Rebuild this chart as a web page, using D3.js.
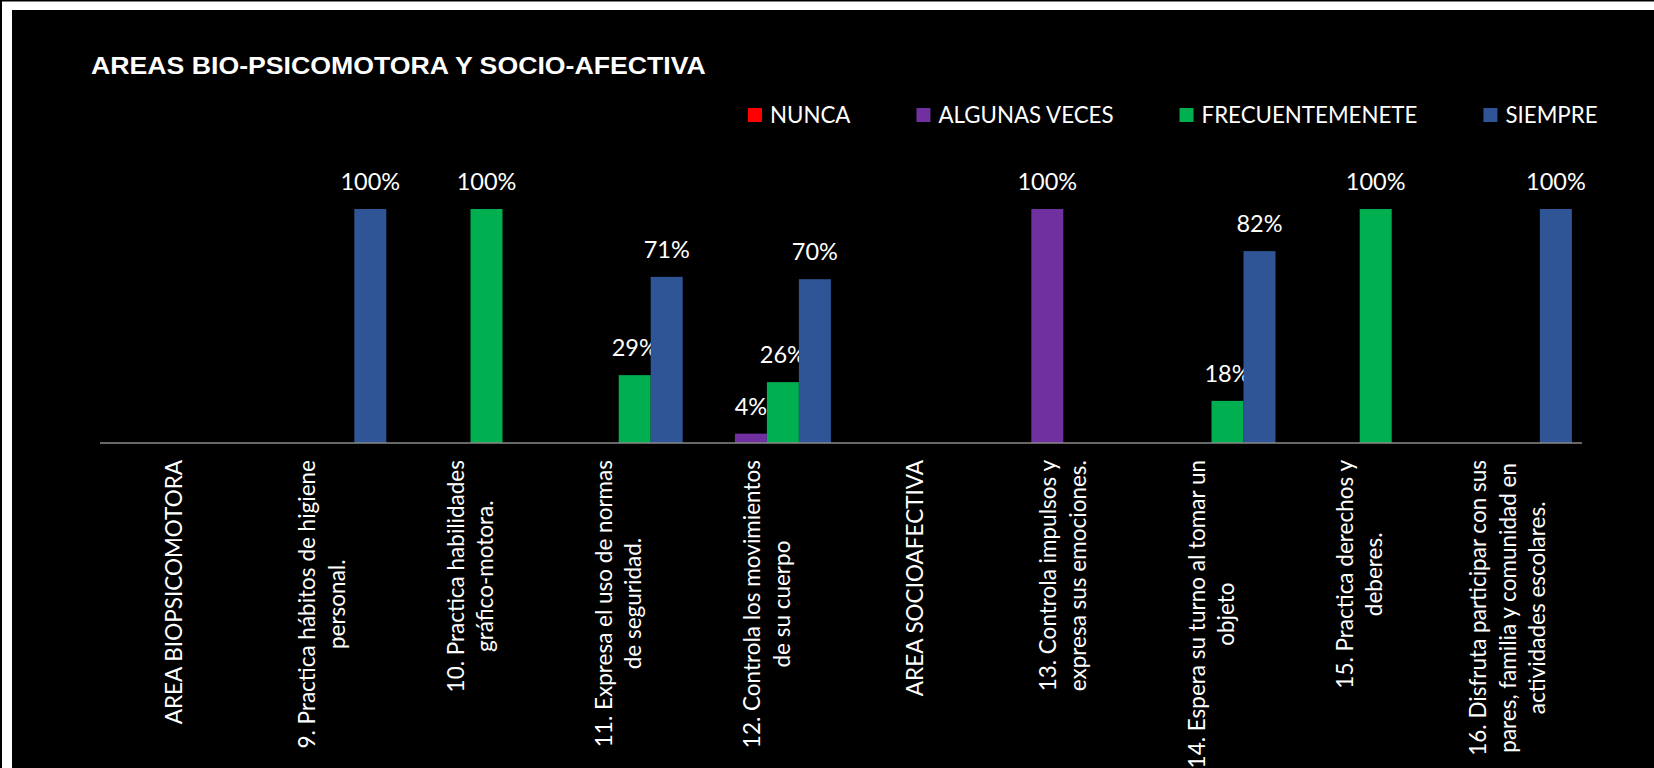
<!DOCTYPE html>
<html>
<head>
<meta charset="utf-8">
<script src="https://cdn.jsdelivr.net/npm/d3@7"></script>
<style>
  html, body { margin: 0; padding: 0; background: #fff; }
  svg { display: block; }
</style>
</head>
<body>
<script>
// chart data
const chartTitle = "AREAS BIO-PSICOMOTORA Y SOCIO-AFECTIVA";

const categories = [
  "AREA BIOPSICOMOTORA",
  "9. Practica hábitos de higiene\npersonal.",
  "10. Practica habilidades\ngráfico-motora.",
  "11. Expresa el uso de normas\nde seguridad.",
  "12. Controla los movimientos\nde su cuerpo",
  "AREA SOCIOAFECTIVA",
  "13. Controla impulsos y\nexpresa sus emociones.",
  "14. Espera su turno al tomar un\nobjeto",
  "15. Practica derechos y\ndeberes.",
  "16. Disfruta participar con sus\npares, familia y comunidad en\nactividades escolares."
];

const seriesNames = ["NUNCA", "ALGUNAS VECES", "FRECUENTEMENETE", "SIEMPRE"];
const seriesColors = ["#FF0000", "#7030A0", "#00B050", "#2F5597"];

// percentages, null = empty cell
const nunca          = [null, null, null, null, null, null, null, null, null, null];
const algunasVeces   = [null, null, null, null, 4,    null, 100,  null, null, null];
const frecuentemente = [null, null, 100,  29,   26,   null, null, 18,   100,  null];
const siempre        = [null, 100,  null, 71,   70,   null, null, 82,   null, 100];

const seriesValues = [nunca, algunasVeces, frecuentemente, siempre];

let W = 1654, H = 768;
let plot = null;
let svg = null;
let x0, x1, y = null;

const labelFont = "Lato, 'Open Sans', sans-serif";

appendSvg("body");
drawFrame();
setupScales();
appendTitle();
appendLegend();
appendBars();
appendAxis();

function appendSvg(domElement) {
  svg = d3.select(domElement).append("svg")
    .attr("width", W)
    .attr("height", H);
}

function drawFrame() {
  // white page with thin dark border, chart area is black
  svg.append("rect").attr("width", W).attr("height", H).attr("fill", "#fff");
  svg.append("line").attr("x1", 1).attr("x2", 1).attr("y1", 0).attr("y2", H)
    .attr("stroke", "#000").attr("stroke-width", 2);
  svg.append("line").attr("x1", 0).attr("x2", W).attr("y1", 0.75).attr("y2", 0.75)
    .attr("stroke", "#000").attr("stroke-width", 1.5);
  svg.append("rect")
    .attr("x", 12).attr("y", 10)
    .attr("width", W - 12).attr("height", H - 10)
    .attr("fill", "#000");
}

function setupScales() {
  plot = {left: 100, right: 1582, top: 209, bottom: 443};

  x0 = d3.scaleBand()
    .domain(d3.range(categories.length))
    .range([plot.left, plot.right])
    .paddingInner(0)
    .paddingOuter(0);

  x1 = d3.scaleBand()
    .domain(seriesNames)
    .range([0, x0.bandwidth()])
    .paddingInner(0)
    .paddingOuter(0.316);

  y = d3.scaleLinear()
    .domain([0, 100])
    .range([plot.bottom, plot.top]);
}

function appendTitle() {
  svg.append("text")
    .attr("transform", "translate(91,74) scale(1.16,1)")
    .attr("fill", "#fff")
    .style("font-family", "'Liberation Sans', Arial, sans-serif")
    .style("font-weight", "bold")
    .style("font-size", "23px")
    .text(chartTitle);
}

function appendLegend() {
  let lx = 748;
  const ly = 115;
  seriesNames.forEach(function(name, i) {
    const g = svg.append("g").attr("class", "legend");
    g.append("rect")
      .attr("x", lx).attr("y", ly - 7)
      .attr("width", 14).attr("height", 14)
      .attr("fill", seriesColors[i]);
    const t = g.append("text")
      .attr("x", lx + 22)
      .attr("y", ly)
      .attr("dy", "0.36em")
      .attr("fill", "#fff")
      .style("font-family", labelFont)
      .style("font-size", "22.3px")
      .text(name);
    lx += 22 + t.node().getComputedTextLength() + 66;
  });
}

function appendBars() {
  const groups = svg.selectAll(".series")
    .data(seriesValues)
    .enter()
    .append("g")
    .attr("class", "series")
    .attr("fill", function(d, i) { return seriesColors[i]; });

  const cells = function(vals, si) {
    return vals.map(function(v, ci) { return {ci: ci, si: si, v: v}; })
      .filter(function(d) { return d.v != null; });
  };

  groups.each(function(vals, si) {
    const g = d3.select(this);
    g.selectAll("rect")
      .data(cells(vals, si))
      .enter()
      .append("rect")
      .attr("x", function(d) { return x0(d.ci) + x1(seriesNames[d.si]); })
      .attr("y", function(d) { return y(d.v); })
      .attr("width", x1.bandwidth())
      .attr("height", function(d) { return y(0) - y(d.v); });

    g.selectAll("text")
      .data(cells(vals, si))
      .enter()
      .append("text")
      .attr("x", function(d) { return x0(d.ci) + x1(seriesNames[d.si]) + x1.bandwidth() / 2; })
      .attr("y", function(d) { return y(d.v) - 19; })
      .attr("text-anchor", "middle")
      .attr("fill", "#fff")
      .style("font-family", labelFont)
      .style("font-size", "23.5px")
      .text(function(d) { return d.v + "%"; });
  });
}

function appendAxis() {
  svg.append("line")
    .attr("x1", plot.left).attr("x2", plot.right)
    .attr("y1", y(0)).attr("y2", y(0))
    .attr("stroke", "#8a8a8a")
    .attr("stroke-width", 1.6);

  const lineH = 29.5;
  const ticks = svg.selectAll(".tick")
    .data(categories)
    .enter()
    .append("g")
    .attr("class", "tick")
    .attr("transform", function(d, i) {
      return `translate(${x0(i) + x0.bandwidth() / 2}, ${y(0) + 17}) rotate(-90)`;
    });

  ticks.each(function(d) {
    const lines = d.split("\n");
    const t = d3.select(this).append("text")
      .attr("text-anchor", "middle")
      .attr("fill", "#fff")
      .style("font-family", labelFont)
      .style("font-size", "22.5px")
      .text(null);
    lines.forEach(function(line, k) {
      t.append("tspan")
        .attr("x", 0)
        .attr("y", (k - (lines.length - 1) / 2) * lineH)
        .attr("dy", "0.35em")
        .text(line);
    });
    let maxLen = 0;
    t.selectAll("tspan").each(function() {
      maxLen = Math.max(maxLen, this.getComputedTextLength());
    });
    t.attr("transform", `translate(${-maxLen / 2}, 0)`);
  });
}
</script>
</body>
</html>
